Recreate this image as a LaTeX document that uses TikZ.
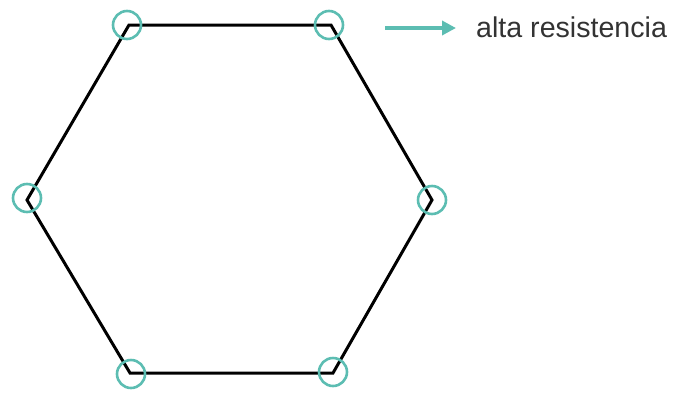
\documentclass[tikz,border=0pt]{standalone}
\usepackage{fontspec}
\setmainfont{Liberation Sans}
\usetikzlibrary{arrows.meta}
\definecolor{teal1}{HTML}{5CBDB2}
\definecolor{txt}{HTML}{333333}
\begin{document}
\begin{tikzpicture}[x=1pt,y=-1pt,
  hexline/.style={line width=3pt,black,line join=miter},
  ring/.style={circle,draw=teal1,line width=2.6pt,minimum size=28pt,inner sep=0pt},
  legarrow/.style={teal1,line width=3.6pt,-{Triangle[length=14pt,width=14pt]}}]
\useasboundingbox (0,0) rectangle (676,394);
\coordinate (v1) at (129,25);
\coordinate (v2) at (331,25);
\coordinate (v3) at (432,200);
\coordinate (v4) at (333,373);
\coordinate (v5) at (130,373);
\coordinate (v6) at (27,200);
\draw[hexline] (v1) -- (v2) -- (v3) -- (v4) -- (v5) -- (v6) -- cycle;
\node[ring] (c1) at (127,25) {};
\node[ring] (c2) at (329,25) {};
\node[ring] (c3) at (432,200) {};
\node[ring] (c4) at (333,372) {};
\node[ring] (c5) at (131,374) {};
\node[ring] (c6) at (27,198) {};
\coordinate (a1) at (385,28);
\node[anchor=west,text=txt,font=\fontsize{28.6}{34}\selectfont,inner sep=0pt] (lab) at (476,27) {alta resistencia};
\draw[legarrow] (a1) -- (456,28);
\end{tikzpicture}
\end{document}
